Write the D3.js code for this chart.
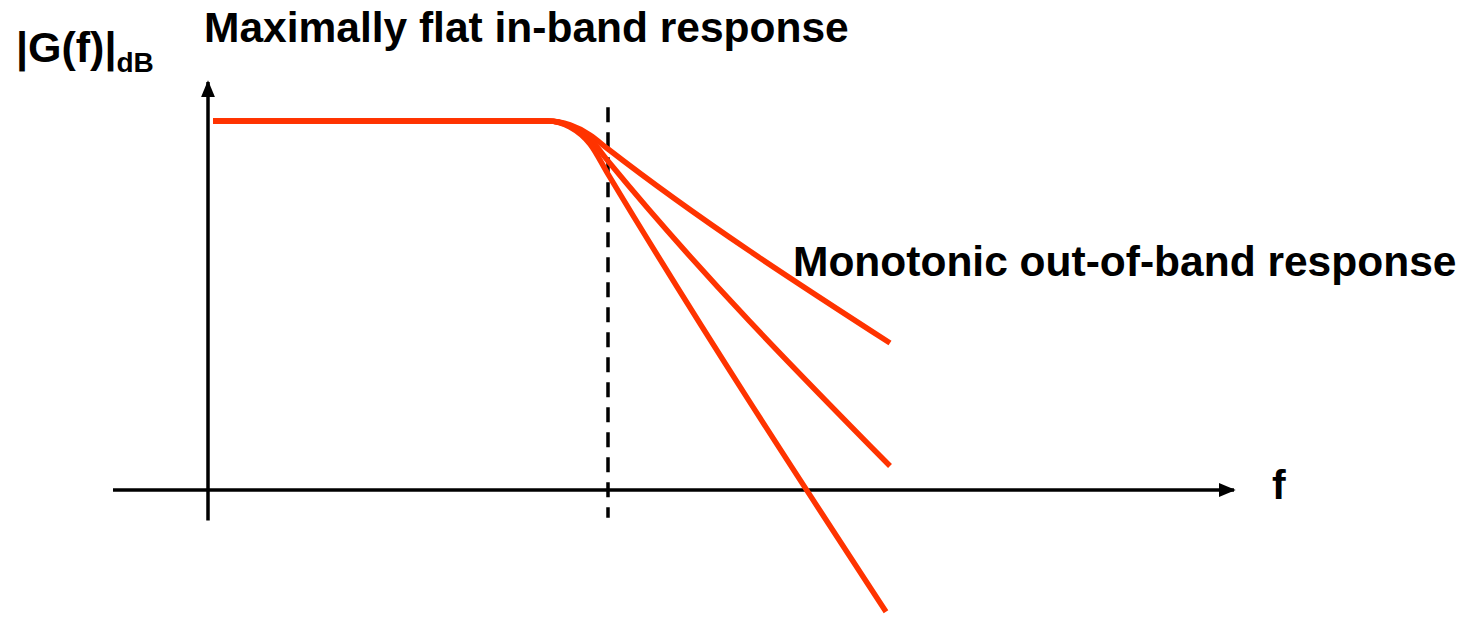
<!DOCTYPE html>
<head>
  <style>
    body { margin: 0; background: #fff; }
    text { font-family: "Liberation Sans", Arial, sans-serif; font-weight: bold; fill: #000; }
  </style>
</head>
<title>Maximally flat response</title>
<body>
<script src="https://cdn.jsdelivr.net/npm/d3@7"></script>
<script>

// frequency normalised to the cutoff (f/fc), gain in dB
var passF = [0.0125, 0.5, 0.85];
var passG = [0, 0, 0];

var kneeF = [0.85, 0.905, 0.955, 1.0];
var stopEndF = [1.705, 1.705, 1.695];

// three roll-off curves, from gentle to steep
var curveTopG = [0, -0.43, -1.52, -3.04, -24.07];
var curveMidG = [0, -0.54, -1.95, -4.34, -37.4];
var curveLowG = [0, -0.65, -2.49, -5.75, -53.2];

var cutoffF = 1.0;
var xAxisExtent = [-0.2375, 2.57];
var yAxisExtent = [-43.3, 4.45];
var axisGain = -40;

var titleText = "Maximally flat in-band response";
var stopText = "Monotonic out-of-band response";
var yLabel = "|G(f)|";
var yLabelSub = "dB";
var xLabel = "f";

var W = 1471, H = 618;

var x = d3.scaleLinear().domain([0, 1]).range([208, 608]);
var y = d3.scaleLinear().domain([0, -40]).range([121, 490]);

var svg = d3.select("body").append("svg")
    .attr("width", W)
    .attr("height", H);

var defs = svg.append("defs");
defs.append("marker")
    .attr("id", "arrow")
    .attr("viewBox", "0 0 10 10")
    .attr("preserveAspectRatio", "none")
    .attr("refX", 9)
    .attr("refY", 5)
    .attr("markerUnits", "userSpaceOnUse")
    .attr("markerWidth", 17)
    .attr("markerHeight", 14)
    .attr("orient", "auto")
  .append("path")
    .attr("d", "M0,0 L10,5 L0,10 Z")
    .attr("fill", "#000");

// axes
svg.append("line")
    .attr("x1", x(xAxisExtent[0])).attr("x2", x(xAxisExtent[1]) - 2)
    .attr("y1", y(axisGain)).attr("y2", y(axisGain))
    .attr("stroke", "#000").attr("stroke-width", 3.5)
    .attr("marker-end", "url(#arrow)");

svg.append("line")
    .attr("x1", x(0)).attr("x2", x(0))
    .attr("y1", y(yAxisExtent[0])).attr("y2", y(yAxisExtent[1]) + 2)
    .attr("stroke", "#000").attr("stroke-width", 3.5)
    .attr("marker-end", "url(#arrow)");

// cutoff
svg.append("line")
    .attr("x1", x(cutoffF)).attr("x2", x(cutoffF))
    .attr("y1", y(1.5)).attr("y2", y(-43))
    .attr("stroke", "#000").attr("stroke-width", 3.5)
    .attr("stroke-dasharray", "15,10");

var line = d3.line()
    .x(function(d) { return x(d[0]); })
    .y(function(d) { return y(d[1]); })
    .curve(d3.curveMonotoneX);

function buildCurve(g, endF) {
  var pts = passF.slice(0, -1).map(function(f, i) { return [f, passG[i]]; });
  kneeF.forEach(function(f, i) { pts.push([f, g[i]]); });
  pts.push([endF, g[g.length - 1]]);
  return pts;
}

var curves = [
  buildCurve(curveTopG, stopEndF[0]),
  buildCurve(curveMidG, stopEndF[1]),
  buildCurve(curveLowG, stopEndF[2])
];

svg.selectAll("path.resp")
    .data(curves)
  .enter().append("path")
    .attr("class", "resp")
    .attr("d", line)
    .attr("fill", "none")
    .attr("stroke", "#ff3300")
    .attr("stroke-width", 5.5);

// labels
svg.append("text")
    .attr("x", 204).attr("y", 42)
    .style("font-size", "42.5px")
    .text(titleText);

svg.append("text")
    .attr("x", 793).attr("y", 276)
    .style("font-size", "42.5px")
    .text(stopText);

var yl = svg.append("text")
    .attr("x", 16).attr("y", 62)
    .style("font-size", "43px");
yl.append("tspan").text(yLabel);
yl.append("tspan")
    .attr("dy", 10)
    .style("font-size", "28px")
    .text(yLabelSub);

svg.append("text")
    .attr("x", 1272).attr("y", 499)
    .style("font-size", "41px")
    .text(xLabel);

</script>
</body>
